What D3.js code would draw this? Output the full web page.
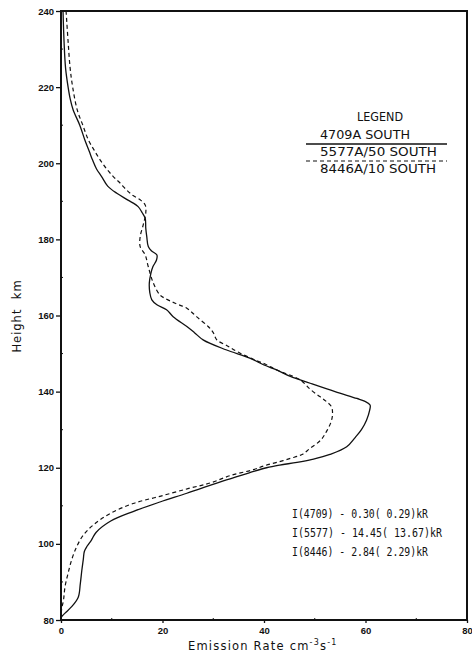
<!DOCTYPE html>
<html>
<head>
<meta charset="utf-8">
<script src="https://cdn.jsdelivr.net/npm/d3@7"></script>
<style>
  html, body { margin: 0; padding: 0; background: #fff; }
  svg { display: block; }
  text { font-family: "DejaVu Sans", sans-serif; fill: #111; }
</style>
</head>
<body>
<svg id="chart" width="472" height="652"></svg>
<script>
// Volume emission rate profiles (height in km, rate in cm^-3 s^-1)
const heights4709 = [80, 80.8, 81.8, 83.5, 86, 89.5, 93, 96, 98, 99.5, 101, 103, 106, 108.5, 111, 113.3, 116.8, 118.7, 120, 120.7, 121.4, 122.2, 123.5, 125.5, 128, 130, 132.5, 135, 136.5, 137.5, 138.2, 140, 142.2, 144, 145.7, 147, 148.8, 151, 153.6, 155.5, 157.1, 159.7, 161.5, 162.8, 164.1, 166, 168.5, 171, 172.8, 174.5, 175.9, 177, 178.1, 180.7, 183, 185.5, 187, 188.6, 190.3, 192.1, 194, 196.5, 198.5, 200.9, 203, 206.1, 210, 214, 217, 220, 225, 232, 240];
const rates4709 = [0, 0.1, 0.8, 2.1, 3.4, 3.8, 4.1, 4.4, 4.6, 5.2, 6.0, 6.9, 9.8, 14.2, 19.5, 24.8, 32.6, 37.2, 40.5, 43.1, 46.5, 49.5, 53.0, 56.3, 58.0, 59.2, 60.2, 60.8, 60.9, 59.8, 58.3, 54.0, 49.1, 45.2, 42.5, 40.0, 37.2, 32.5, 28.0, 26.3, 24.8, 22.1, 20.8, 18.9, 17.9, 17.5, 17.4, 17.7, 18.1, 18.8, 18.9, 17.8, 17.2, 16.9, 16.7, 16.6, 16.0, 15.2, 13.2, 11.0, 9.2, 8.0, 7.0, 6.2, 5.6, 4.7, 3.7, 2.4, 1.8, 1.4, 0.9, 0.6, 0.4];

const heights5577 = [80, 82.6, 85.3, 88.8, 92.3, 95.8, 99.3, 102.3, 105.0, 108.0, 110.6, 112.5, 114.5, 116, 118, 119.5, 120.5, 121.4, 122.5, 123.5, 125, 127.3, 129.5, 132, 134, 136, 137.5, 138.7, 140.5, 143.1, 145.7, 147.2, 148.1, 150.1, 152, 153.6, 155.5, 157.1, 159.7, 161.9, 163.2, 164.5, 165.4, 168.5, 172.8, 175.9, 178.1, 180.7, 183.8, 186.9, 189.0, 190.4, 191.5, 193.0, 195, 196.5, 198.5, 200.9, 203.5, 206.1, 210, 214, 220, 225, 232, 240];
const rates5577 = [0, 0.1, 0.5, 0.8, 1.4, 2.1, 3.1, 4.4, 6.4, 9.7, 14.2, 19.5, 25.0, 29.4, 33.5, 37.9, 40.0, 42.5, 45.3, 47.5, 49.0, 51.2, 52.3, 53.2, 53.5, 53.3, 52.2, 51.0, 49.2, 47.1, 42.5, 40.3, 38.6, 35.3, 32.8, 30.7, 30.0, 29.0, 26.7, 24.8, 22.5, 20.5, 19.5, 18.2, 17.2, 16.6, 15.6, 15.6, 16.2, 16.7, 16.6, 15.6, 14.2, 12.9, 11.5, 10.3, 9.0, 7.7, 6.5, 5.4, 4.3, 3.2, 2.3, 1.8, 1.4, 1.0];

const xTicks = [0, 20, 40, 60, 80];
const yTicks = [80, 100, 120, 140, 160, 180, 200, 220, 240];
const xMinor = [10, 30, 50, 70];
const yMinor = [90, 110, 130, 150, 170, 190, 210, 230];

const legendTitle = "LEGEND";
const legendLabels = ["4709A SOUTH", "5577A/50 SOUTH", "8446A/10 SOUTH"];
const intensityLines = ["I(4709) - 0.30( 0.29)kR", "I(5577) - 14.45( 13.67)kR", "I(8446) - 2.84( 2.29)kR"];

const svg = d3.select("#chart");
const x = d3.scaleLinear().domain([0, 80]).range([61, 467]);
const y = d3.scaleLinear().domain([80, 240]).range([620, 11]);

// Minor ticks, inside the frame
const minor = svg.append("g").attr("stroke", "#111").attr("stroke-width", 1);
minor.selectAll(".my").data(yMinor).join("line")
  .attr("x1", x(0)).attr("x2", x(0) + 2).attr("y1", d => y(d)).attr("y2", d => y(d));
minor.selectAll(".mx").data(xMinor).join("line")
  .attr("x1", d => x(d)).attr("x2", d => x(d)).attr("y1", y(80)).attr("y2", y(80) - 2);

// Axes
const yAxis = svg.append("g").attr("transform", `translate(${x(0)},0)`)
  .call(d3.axisLeft(y).tickValues(yTicks).tickSize(5).tickPadding(2).tickFormat(d3.format("d")));
const xAxis = svg.append("g").attr("transform", `translate(0,${y(80)})`)
  .call(d3.axisBottom(x).tickValues(xTicks).tickSize(3).tickPadding(4).tickFormat(d3.format("d")));
[yAxis, xAxis].forEach(g => {
  g.select(".domain").remove();
  g.selectAll(".tick line").attr("stroke", "#111").attr("stroke-width", 1.3);
  g.selectAll(".tick text").attr("fill", "#111")
    .style("font-family", "'Liberation Sans', sans-serif")
    .style("font-weight", "bold").style("font-size", "9.5px");
});

// Frame
svg.append("rect")
  .attr("x", x(0)).attr("y", y(240))
  .attr("width", x(80) - x(0)).attr("height", y(80) - y(240))
  .attr("fill", "none").attr("stroke", "#111").attr("stroke-width", 2);

// Profiles
const line = d3.line().curve(d3.curveCatmullRom.alpha(0.5));
const pts4709 = heights4709.map((h, i) => [x(rates4709[i]), y(h)]);
const pts5577 = heights5577.map((h, i) => [x(rates5577[i]), y(h)]);

svg.append("path").attr("d", line(pts4709))
  .attr("fill", "none").attr("stroke", "#111").attr("stroke-width", 1.3);
svg.append("path").attr("d", line(pts5577))
  .attr("fill", "none").attr("stroke", "#111").attr("stroke-width", 1.2)
  .attr("stroke-dasharray", "4,3");

// Axis titles
svg.append("text")
  .attr("transform", "translate(21,316) rotate(-90)")
  .attr("text-anchor", "middle").style("font-size", "11.5px")
  .style("letter-spacing", "1px").style("white-space", "pre")
  .text("Height  km");

const xl = svg.append("text").attr("x", 188).attr("y", 650)
  .style("font-size", "11.5px").style("letter-spacing", "1.2px");
xl.append("tspan").text("Emission Rate cm");
xl.append("tspan").attr("dy", -5).style("font-size", "8px").text("-3");
xl.append("tspan").attr("dy", 5).text("s");
xl.append("tspan").attr("dy", -5).style("font-size", "8px").text("-1");

// Legend
svg.append("text").attr("x", 380).attr("y", 121).attr("text-anchor", "middle")
  .attr("textLength", 46).attr("lengthAdjust", "spacingAndGlyphs")
  .style("font-size", "11.5px").text(legendTitle);
const legendY = [139, 156, 173];
const legendW = [90, 117, 116];
legendLabels.forEach((t, i) => {
  svg.append("text").attr("x", 320).attr("y", legendY[i])
    .attr("textLength", legendW[i]).attr("lengthAdjust", "spacingAndGlyphs")
    .style("font-size", "12px").text(t);
});
svg.append("line").attr("x1", 306).attr("x2", 447).attr("y1", 144).attr("y2", 144)
  .attr("stroke", "#111").attr("stroke-width", 1.4);
svg.append("line").attr("x1", 306).attr("x2", 447).attr("y1", 161).attr("y2", 161)
  .attr("stroke", "#111").attr("stroke-width", 1.2).attr("stroke-dasharray", "4,3");

// Integrated intensities
const intY = [518, 537, 556];
const intW = [136, 150, 136];
intensityLines.forEach((t, i) => {
  svg.append("text").attr("x", 292).attr("y", intY[i])
    .attr("textLength", intW[i]).attr("lengthAdjust", "spacingAndGlyphs")
    .style("font-family", "'DejaVu Sans Mono', monospace")
    .style("font-size", "12px").style("white-space", "pre").text(t);
});
</script>
</body>
</html>
